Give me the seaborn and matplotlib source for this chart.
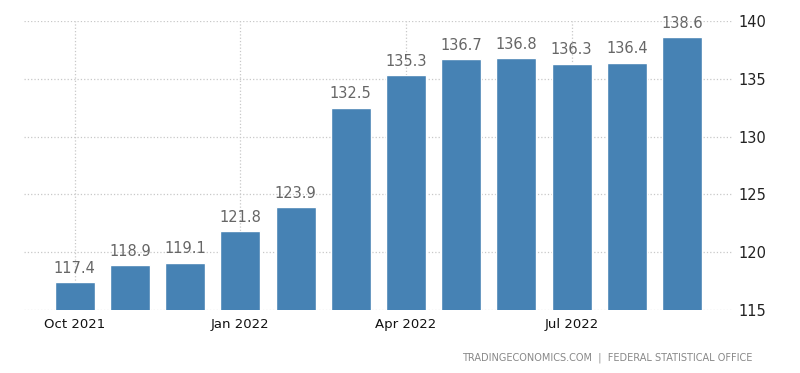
import matplotlib
matplotlib.use("Agg")
import matplotlib.pyplot as plt
import seaborn as sns
import pandas as pd

# monthly index values, Oct 2021 - Sep 2022
months = ["Oct 2021", "Nov 2021", "Dec 2021", "Jan 2022", "Feb 2022", "Mar 2022",
          "Apr 2022", "May 2022", "Jun 2022", "Jul 2022", "Aug 2022", "Sep 2022"]
values = [117.4, 118.9, 119.1, 121.8, 123.9, 132.5,
          135.3, 136.7, 136.8, 136.3, 136.4, 138.6]
shown_ticks = ["Oct 2021", "Jan 2022", "Apr 2022", "Jul 2022"]
y_ticks = [115, 120, 125, 130, 135, 140]

df = pd.DataFrame({"month": months, "value": values})

sns.set_style("white")
fig = plt.figure(figsize=(8, 3.73), dpi=100)
ax = fig.add_axes([0.03, 0.169, 0.886, 0.775])

sns.barplot(data=df, x="month", y="value", color="#4682b4", saturation=1,
            width=0.725, ax=ax, zorder=3)

ax.set_ylim(115, 140)
ax.set_xlim(-0.92, len(months) - 1 + 0.92)
ax.set_yticks(y_ticks)
ax.yaxis.tick_right()
ax.tick_params(axis="y", length=0, labelsize=10.5, colors="#222222", pad=4)

tick_pos = [months.index(m) for m in shown_ticks]
ax.set_xticks(tick_pos)
ax.set_xticklabels(shown_ticks)
ax.tick_params(axis="x", length=3, color="#cccccc", labelsize=9.5,
               labelcolor="#111111", pad=3)

ax.grid(True, linestyle=":", color="#c8c8c8", linewidth=0.9, zorder=0)
for s in ax.spines.values():
    s.set_visible(False)
ax.set_xlabel("")
ax.set_ylabel("")

for i, v in enumerate(values):
    ax.text(i, v + 0.55, f"{v:.1f}", ha="center", va="bottom",
            fontsize=10.5, color="#666666")

fig.text(0.94, 0.04, "TRADINGECONOMICS.COM  |  FEDERAL STATISTICAL OFFICE",
         ha="right", va="center", fontsize=7, color="#888888")

fig.savefig("out.png", dpi=100)
